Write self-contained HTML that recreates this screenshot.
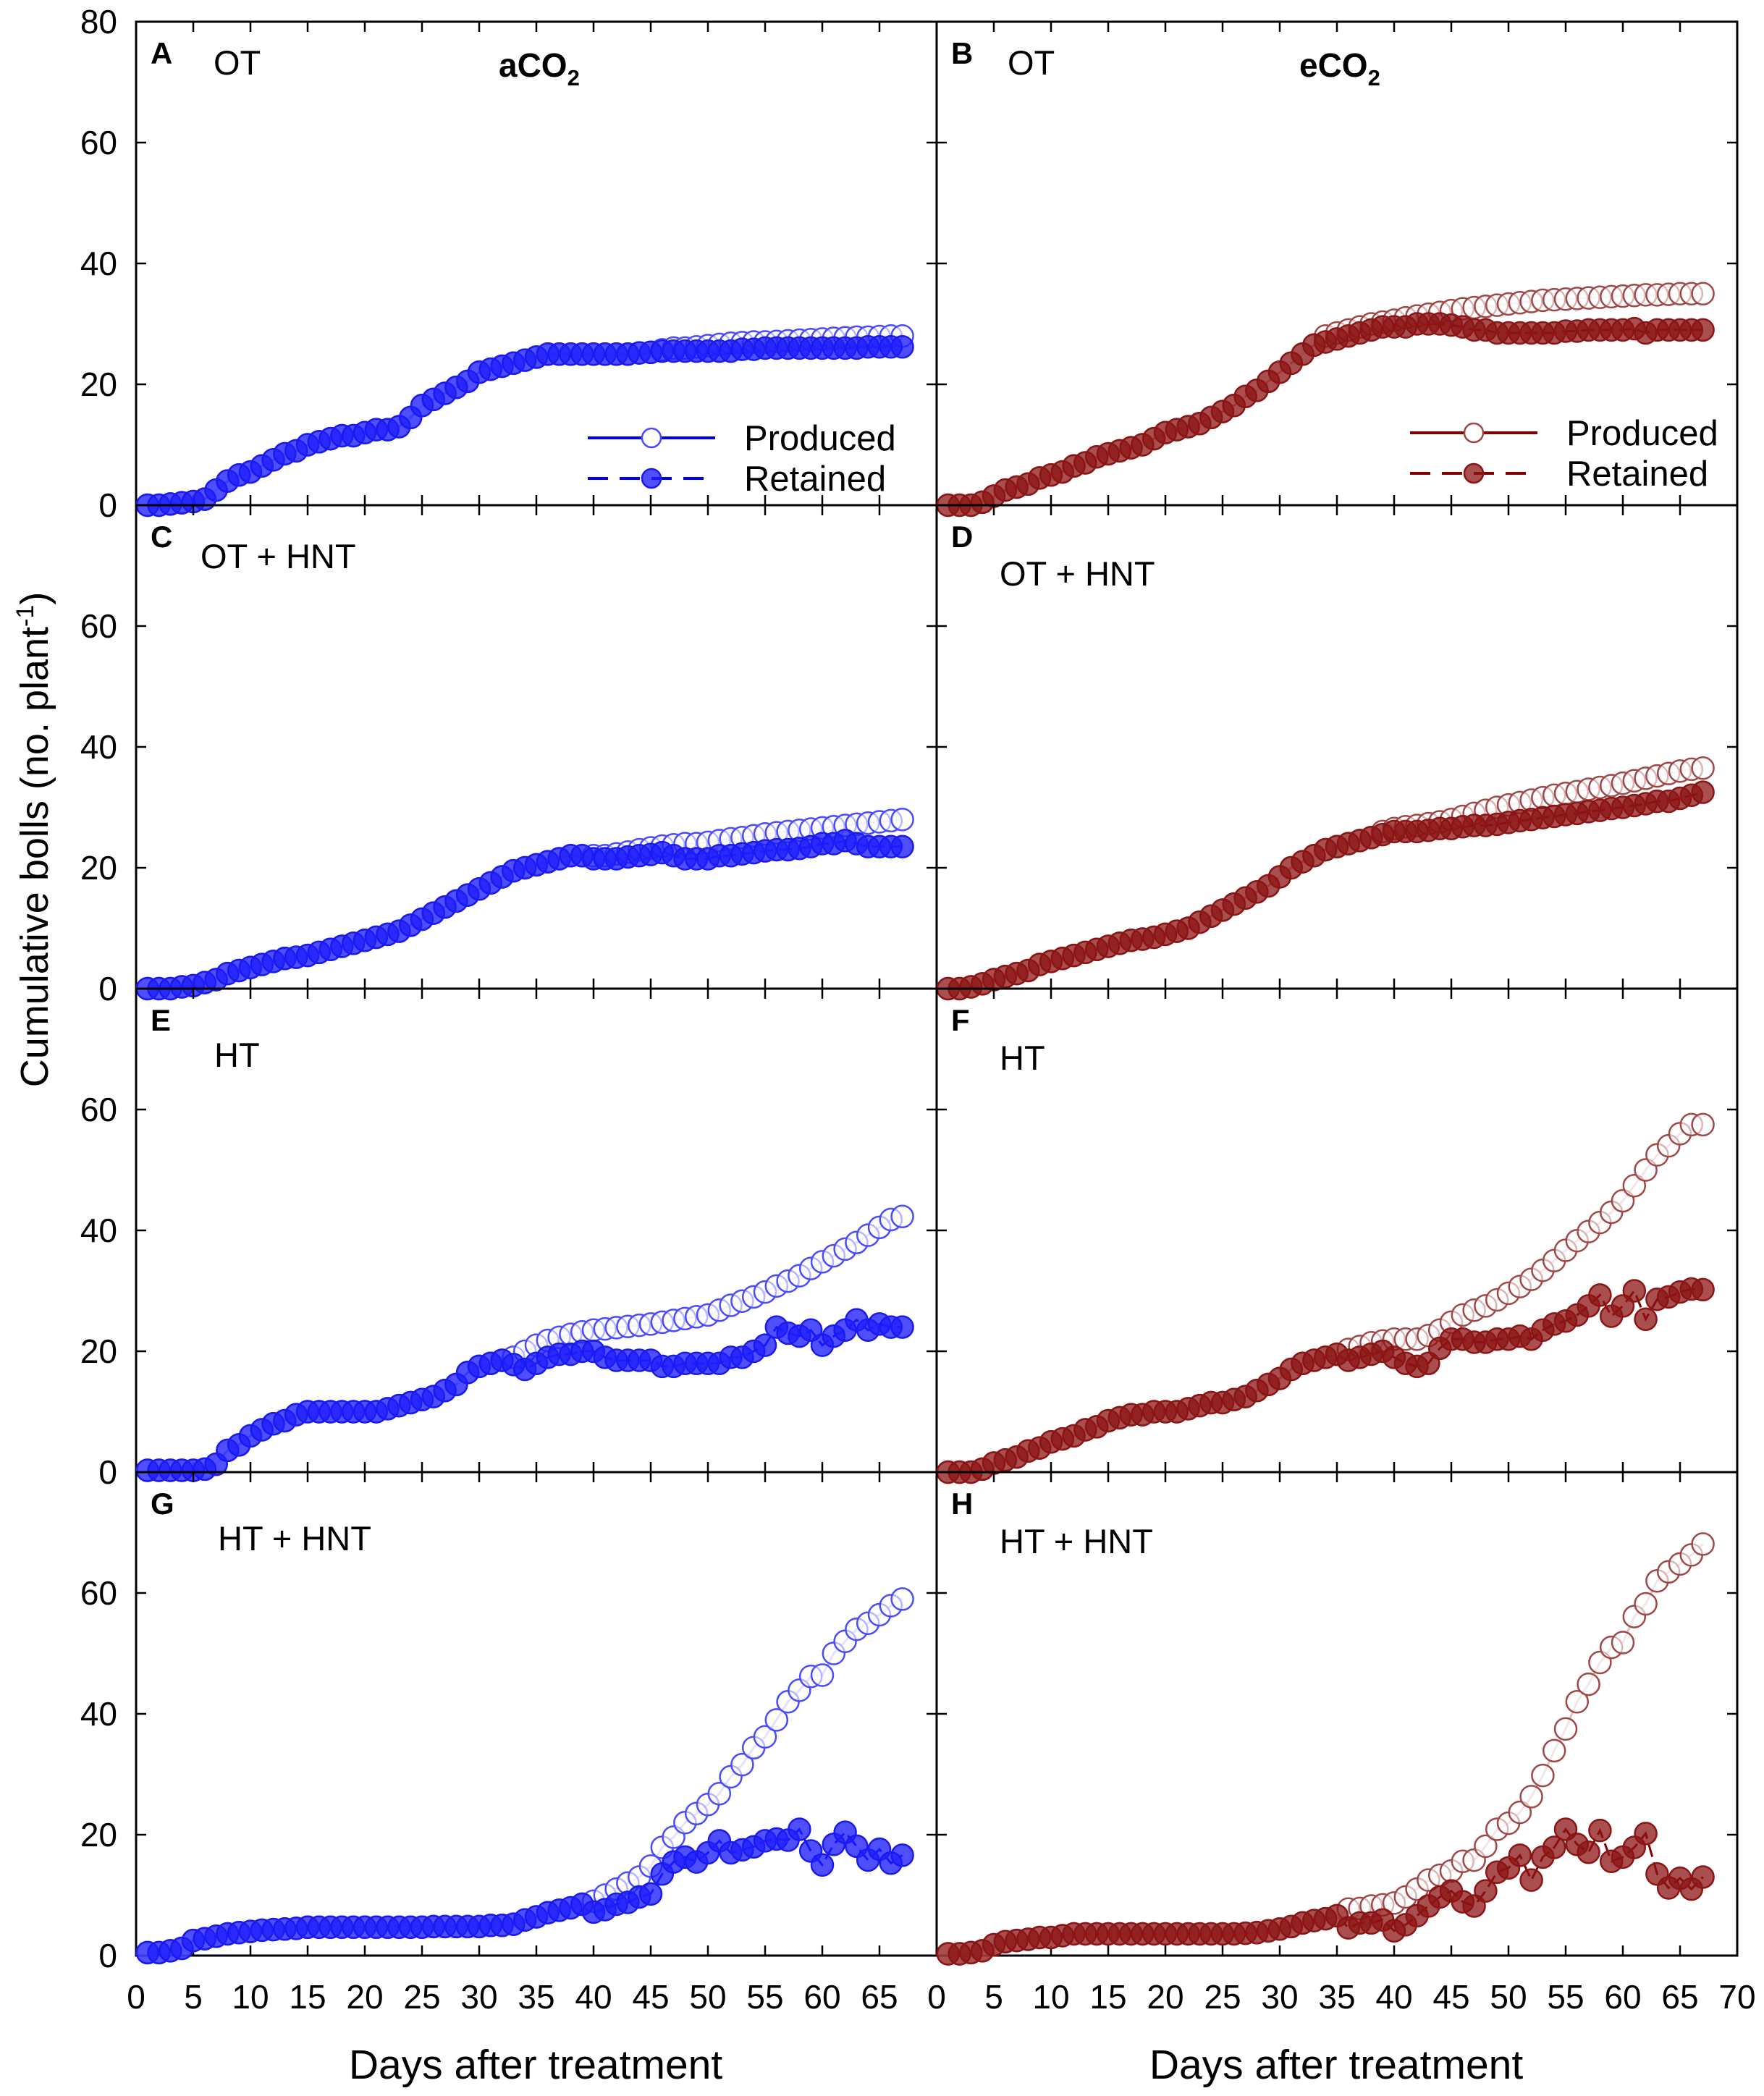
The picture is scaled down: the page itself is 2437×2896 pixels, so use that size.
<!DOCTYPE html>
<html><head><meta charset="utf-8"><style>
html,body{margin:0;padding:0;background:#fff;}
svg{display:block;font-family:"Liberation Sans",Arial,sans-serif;}
</style></head><body>
<svg id="chart" width="2437" height="2896" viewBox="0 0 2437 2896" xmlns="http://www.w3.org/2000/svg"></svg>
<script>
const days = Array.from({length:67},(_,i)=>i+1);
const xTicksLeft = [0,5,10,15,20,25,30,35,40,45,50,55,60,65];
const xTicksRight = [0,5,10,15,20,25,30,35,40,45,50,55,60,65,70];
const yTicksTop = [0,20,40,60,80];
const yTicksOther = [0,20,40,60];
const panelLetters = ["A","B","C","D","E","F","G","H"];
const panelTitles = ["OT","OT","OT + HNT","OT + HNT","HT","HT","HT + HNT","HT + HNT"];

const retA = [0,0,0.2,0.4,0.6,1,2.5,4,5,5.5, 6.5,7.5,8.5,9,10,10.5,11,11.5,11.5,12, 12.5,12.5,13,14.5,16.5,17.5,18.5,19.5,20.5,22, 22.5,23,23.5,24,24.5,25,25,25,25,25, 25,25,25,25.2,25.3,25.5,25.5,25.5,25.5,25.5, 25.5,25.5,25.8,25.8,26,26,26,26,26,26, 26,26,26,26.2,26.2,26.2,26.2];
const proA = [0,0,0.2,0.4,0.6,1,2.5,4,5,5.5, 6.5,7.5,8.5,9,10,10.5,11,11.5,11.5,12, 12.5,12.5,13,14.5,16.5,17.5,18.5,19.5,20.5,22, 22.5,23,23.5,24,24.5,25,25,25,25,25, 25,25,25,25.2,25.3,25.7,26,26,26.2,26.4, 26.6,26.8,26.9,27,27,27.1,27.2,27.3,27.4,27.5, 27.6,27.7,27.8,27.8,27.9,28,28];
const retB = [0,0,0,0.5,1.5,2.5,3,3.5,4.5,5, 5.5,6.5,7,8,8.5,9,9.5,10,11,12, 12.5,13,13.5,14.5,15.5,16.5,18,19,20.5,22, 23.5,25,26.5,27,27.5,28,28.5,29,29.5,29.5, 29.5,30,30,30,29.8,29.5,29,29,28.5,28.5, 28.5,28.5,28.5,28.5,28.8,28.8,29,29,29,29, 29.2,28.5,29,29,29,29,29];
const proB = [0,0,0,0.5,1.5,2.5,3,3.5,4.5,5, 5.5,6.5,7,8,8.5,9,9.5,10,11,12, 12.5,13,13.5,14.5,15.5,16.5,18,19,20.5,22, 23.5,25,26.5,28,28.5,29,29.5,30,30.3,30.6, 31,31.3,31.6,31.9,32.2,32.5,32.7,32.9,33.1,33.3, 33.5,33.7,33.9,34,34.1,34.2,34.3,34.4,34.5,34.6, 34.7,34.8,34.8,34.9,35,35,35];
const retC = [0,0,0,0.3,0.5,1,1.5,2.5,3,3.5, 4,4.5,5,5.2,5.5,6,6.5,7,7.5,8, 8.5,9,9.5,10.5,11.5,12.5,13.5,14.5,15.5,16.5, 17.5,18.5,19.5,20,20.5,21,21.5,22,22,21.5, 21.5,21.5,21.8,22,22.2,22.5,22,21.5,21.5,21.5, 22,22,22.3,22.5,22.8,23,23,23.2,23.5,24, 24,24.5,24,23.5,23.5,23.5,23.5];
const proC = [0,0,0,0.3,0.5,1,1.5,2.5,3,3.5, 4,4.5,5,5.2,5.5,6,6.5,7,7.5,8, 8.5,9,9.5,10.5,11.5,12.5,13.5,14.5,15.5,16.5, 17.5,18.5,19.5,20,20.5,21,21.5,22,22,22, 22,22.3,22.6,23,23.3,23.6,23.8,24,24,24.2, 24.5,24.8,25,25.3,25.6,25.8,26,26.2,26.4,26.6, 26.8,27,27.2,27.4,27.6,27.8,28];
const retD = [0,0,0.3,0.8,1.5,2,2.5,3,4,4.5, 5,5.5,6,6.5,7,7.5,8,8.2,8.5,9, 9.5,10,11,12,13,14,15,16,17,18.5, 20,21,22,23,23.5,24,24.5,25,25.5,26, 26,26,26.2,26.5,26.5,26.8,27,27,27.2,27.5, 27.8,28,28.3,28.5,28.8,29,29.3,29.5,29.8,30, 30.3,30.6,31,31,31.5,32,32.5];
const proD = [0,0,0.3,0.8,1.5,2,2.5,3,4,4.5, 5,5.5,6,6.5,7,7.5,8,8.2,8.5,9, 9.5,10,11,12,13,14,15,16,17,18.5, 20,21,22,23,23.5,24,24.5,25,26,26.5, 26.8,27,27.3,27.6,28,28.5,29,29.5,30,30.4, 30.8,31.2,31.6,32,32.3,32.6,33,33.3,33.6,34, 34.4,34.8,35.2,35.6,36,36.3,36.5];
const retE = [0.3,0.3,0.3,0.3,0.3,0.5,1.3,3.6,4.5,6, 7,8,8.5,9.5,10,10,10,10,10,10, 10,10.5,11,11.5,12,12.5,13.5,14.5,16.5,17.5, 18,18.5,17.8,17,18,19,19.5,19.5,20,20, 19,18.5,18.5,18.5,18.5,17.5,17.5,18,18,18, 18,19,19,20,21,24,23,22.5,23.5,21, 22.5,23.5,25.2,23.5,24.5,24,24];
const proE = [0.3,0.3,0.3,0.3,0.3,0.5,1.3,3.6,4.5,6, 7,8,8.5,9.5,10,10,10,10,10,10, 10,10.5,11,11.5,12,12.5,13.5,14.5,16.5,17.5, 18,18.5,19,20,21,21.8,22.3,22.8,23.2,23.5, 23.7,23.9,24.1,24.3,24.5,24.8,25.1,25.4,25.7,26, 26.8,27.6,28.3,29,29.8,30.8,31.6,32.5,33.7,34.8, 35.8,36.9,38,39.2,40.5,41.8,42.3];
const retF = [0,0,0,0.5,1.5,2,2.5,3.5,4,5, 5.5,6,7,7.5,8.5,9,9.5,9.5,10,10, 10,10.5,11,11.5,11.5,12,12.5,13.5,14.5,15.5, 17,18,18.5,19,19.5,18.5,19,19.5,20,19, 18,17.5,18,20.5,22,22,21.5,21.5,22,22, 22.5,22,23.5,24.5,25,26,27.5,29.3,25.8,27.5, 30,25.3,28.6,29,29.8,30.3,30.2];
const proF = [0,0,0,0.5,1.5,2,2.5,3.5,4,5, 5.5,6,7,7.5,8.5,9,9.5,9.5,10,10, 10,10.5,11,11.5,11.5,12,12.5,13.5,14.5,15.5, 17,18,18.5,19,19.5,20.3,20.8,21.4,21.7,22, 22,22,22.6,23.5,24.8,26,26.8,27.5,28.5,29.6, 30.7,31.9,33.4,35,36.7,38.3,39.8,41.3,43,44.9, 47.4,50,52.5,54,56,57.5,57.5];
const retG = [0.5,0.5,0.8,1.2,2.5,2.8,3.2,3.6,3.8,4, 4.2,4.3,4.4,4.5,4.7,4.7,4.7,4.7,4.7,4.7, 4.7,4.7,4.7,4.7,4.7,4.8,4.8,4.8,4.8,4.8, 5,5,5.2,5.9,6.4,7.1,7.5,7.9,8.5,7.2, 7.6,8.5,8.8,9.7,10.2,13.5,15.5,16.3,15.5,17, 19,17,17.5,18,19,19.3,19.1,20.9,17.3,15, 18.4,20.4,18.1,15.8,17.6,15.3,16.6];
const proG = [0.5,0.5,0.8,1.2,2.5,2.8,3.2,3.6,3.8,4, 4.2,4.3,4.4,4.5,4.7,4.7,4.7,4.7,4.7,4.7, 4.7,4.7,4.7,4.7,4.7,4.8,4.8,4.8,4.8,4.8, 5,5,5.2,5.9,6.4,7.1,7.5,7.9,8.5,9, 10,11,12,13,14.8,17.9,19.6,22,23.5,25, 26.8,29.6,31.6,34.4,36.2,39,42,43.9,46.2,46.4, 50,52,54,55,56.4,57.9,59];
const retH = [0.3,0.3,0.5,0.8,1.8,2.3,2.5,2.7,3,3, 3.3,3.6,3.6,3.6,3.6,3.6,3.6,3.6,3.6,3.6, 3.6,3.6,3.6,3.6,3.6,3.6,3.7,3.8,4.1,4.4, 4.8,5.4,5.8,6.1,6.6,4.6,5.4,5.4,5.9,4.1, 5.1,6.6,8.2,9.7,10.7,8.9,8.2,10.7,13.8,14.5, 16.6,12.5,16.3,17.9,20.9,18.4,17.1,20.7,15.6,16.3, 17.9,20.2,13.5,11.2,12.8,11,13];
const proH = [0.3,0.3,0.5,0.8,1.8,2.3,2.5,2.7,3,3, 3.3,3.6,3.6,3.6,3.6,3.6,3.6,3.6,3.6,3.6, 3.6,3.6,3.6,3.6,3.6,3.6,3.7,3.8,4.1,4.4, 4.8,5.4,5.8,6.1,6.6,7.7,7.8,8.2,8.4,8.7, 9.7,11,12.5,13.3,14,15.6,15.8,18.1,20.9,21.9, 23.7,26.3,29.8,33.9,37.5,42,44.9,48.5,51,51.8, 56.1,58.2,62,63.5,64.8,66.3,68.1];

const produced = [proA,proB,proC,proD,proE,proF,proG,proH];
const retained = [retA,retB,retC,retD,retE,retF,retG,retH];

const NS="http://www.w3.org/2000/svg";
const svg=document.getElementById('chart');
const L=188, M=1294, R=2400, T=30, PH=668, PW=1106;
function mk(tag,attrs,parent){const e=document.createElementNS(NS,tag);for(const k in attrs)e.setAttribute(k,attrs[k]);(parent||svg).appendChild(e);return e;}

const blue={line:"#0000ee",pline:"#b8b8ff",fill:"rgba(30,30,255,0.78)",stroke:"#1a1aee",open:"#4a4aff"};
const red={line:"#800000",pline:"#e0c0c0",fill:"rgba(140,20,20,0.75)",stroke:"#8b1515",open:"#a04848"};

for(let p=0;p<8;p++){
  const col=p%2, row=Math.floor(p/2);
  const x0=col?M:L, y0=T+row*PH;
  const xs=d=>x0+d/70*PW;
  const ys=v=>y0+PH-v/80*PH;
  const c=col?red:blue;
  const g=mk('g',{});
  
  
  const fr=mk('rect',{x:x0,y:y0,width:PW,height:PH,fill:'none',stroke:'#000','stroke-width':3},g);
  
  
  for(let d=5;d<70;d+=5){
    mk('line',{x1:xs(d),x2:xs(d),y1:y0+PH,y2:y0+PH-14,stroke:'#000','stroke-width':2.5},g);
    mk('line',{x1:xs(d),x2:xs(d),y1:y0,y2:y0+14,stroke:'#000','stroke-width':2.5},g);
  }
  for(let v=20;v<80;v+=20){
    mk('line',{x1:x0,x2:x0+14,y1:ys(v),y2:ys(v),stroke:'#000','stroke-width':2.5},g);
    mk('line',{x1:x0+PW,x2:x0+PW-14,y1:ys(v),y2:ys(v),stroke:'#000','stroke-width':2.5},g);
  }
  if(col===0){
    const yt=row===0?yTicksTop:yTicksOther;
    yt.forEach(v=>{
      const t=mk('text',{x:162,y:ys(v)+16,'text-anchor':'end','font-size':46},g);
      t.textContent=v;
      
      
    });
  }
  if(row===3){
    (col?xTicksRight:xTicksLeft).forEach(d=>{
      const t=mk('text',{x:xs(d),y:2775,'text-anchor':'middle','font-size':46},g);
      t.textContent=d;
      
      
    });
  }
  const pp=days.map((d,i)=>xs(d)+','+ys(produced[p][i])).join(' ');
  const pl=mk('polyline',{points:pp,fill:'none',stroke:c.pline,'stroke-width':3},g);
  
  
  const rp=days.map((d,i)=>xs(d)+','+ys(retained[p][i])).join(' ');
  const rl=mk('polyline',{points:rp,fill:'none',stroke:c.line,'stroke-width':3,'stroke-dasharray':'18,8'},g);
  
  
  days.forEach((d,i)=>{
    const m=mk('circle',{cx:xs(d),cy:ys(produced[p][i]),r:15,fill:'#fff','fill-opacity':0.6,stroke:c.open,'stroke-width':2.5},g);
    
    
  });
  days.forEach((d,i)=>{
    const m=mk('circle',{cx:xs(d),cy:ys(retained[p][i]),r:15,fill:c.fill,stroke:c.stroke,'stroke-width':2.5},g);
    
    
  });
  const lt=mk('text',{x:x0+20,y:y0+58,'font-size':42,'font-weight':'bold'},g);
  lt.textContent=panelLetters[p];
  
  
  const titleX=[295,1392,277,1381,296,1381,301,1381][p];
  const titleY=[103,103,785,809,1474,1478,2142,2146][p];
  const tt=mk('text',{x:titleX,y:titleY,'font-size':47},g);
  tt.textContent=panelTitles[p];
  
  
}

[[689,'a'],[1795,'e']].forEach(([x,pre])=>{
  const t=mk('text',{x:x,y:106,'font-size':46,'font-weight':'bold'});
  
  
  t.innerHTML=pre+'CO<tspan font-size="31" dy="12">2</tspan>';
});

[[812,605,blue,'legend-aco2'],[1948,598,red,'legend-eco2']].forEach(([lx,ly,c,name])=>{
  const g=mk('g',{});
  
  
  mk('line',{x1:lx,x2:lx+176,y1:ly,y2:ly,stroke:c.line,'stroke-width':4},g);
  mk('circle',{cx:lx+88,cy:ly,r:13,fill:'#fff',stroke:c.open,'stroke-width':2.5},g);
  mk('line',{x1:lx,x2:lx+176,y1:ly+56,y2:ly+56,stroke:c.line,'stroke-width':4,'stroke-dasharray':'28,16'},g);
  mk('circle',{cx:lx+88,cy:ly+56,r:13,fill:c.fill,stroke:c.stroke,'stroke-width':2.5},g);
  const t1=mk('text',{x:lx+216,y:ly+17,'font-size':49},g);t1.textContent='Produced';
  
  
  const t2=mk('text',{x:lx+216,y:ly+73,'font-size':49},g);t2.textContent='Retained';
  
  
});

const yt=mk('text',{x:0,y:0,'font-size':54,'text-anchor':'middle',transform:'translate(66,1160) rotate(-90)'});


yt.innerHTML='Cumulative bolls (no. plant<tspan font-size="34" dy="-20">-1</tspan><tspan dy="20">)</tspan>';
[740,1846].forEach(x=>{
  const t=mk('text',{x:x,y:2872,'font-size':57,'text-anchor':'middle'});
  t.textContent='Days after treatment';
  
  
});
</script>
</body></html>
